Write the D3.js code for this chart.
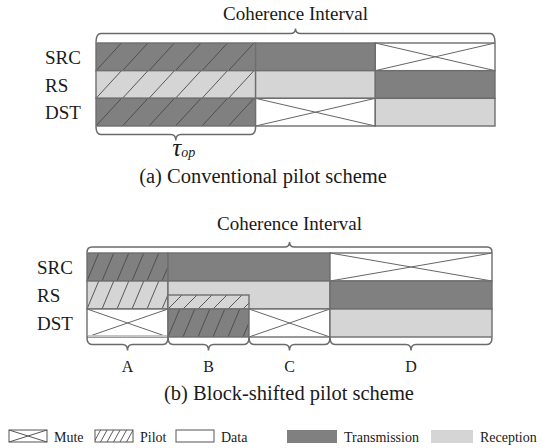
<!DOCTYPE html>
<html>
<head>
<meta charset="utf-8">
<script src="https://cdn.jsdelivr.net/npm/d3@7"></script>
<style>
  html, body { margin: 0; padding: 0; background: #fff; }
  svg { display: block; }
  text { font-family: "Liberation Serif", "Times New Roman", serif; fill: #1a1a1a; }
</style>
</head>
<body>
<div id="chart"></div>
<script>
// Pilot scheme timing diagrams (fractions of one coherence interval)
const rows = ['SRC', 'RS', 'DST'];

// panel (a): conventional pilot scheme
const cellsA = [
  { row: 'SRC', from: 0,   to: 0.4, kind: 'tx',   hatch: 'wide' },
  { row: 'SRC', from: 0.4, to: 0.7, kind: 'tx' },
  { row: 'SRC', from: 0.7, to: 1,   kind: 'mute' },
  { row: 'RS',  from: 0,   to: 0.4, kind: 'rx',   hatch: 'wide' },
  { row: 'RS',  from: 0.4, to: 0.7, kind: 'rx' },
  { row: 'RS',  from: 0.7, to: 1,   kind: 'tx' },
  { row: 'DST', from: 0,   to: 0.4, kind: 'tx',   hatch: 'wide' },
  { row: 'DST', from: 0.4, to: 0.7, kind: 'mute' },
  { row: 'DST', from: 0.7, to: 1,   kind: 'rx' }
];
const bracesA = [
  { from: 0, to: 1,   side: 'top',    label: 'Coherence Interval' },
  { from: 0, to: 0.4, side: 'bottom', label: 'τ', sub: 'op' }
];

// panel (b): block-shifted pilot scheme
const cellsB = [
  { row: 'SRC', from: 0,   to: 0.2, kind: 'tx',   hatch: 'steep' },
  { row: 'SRC', from: 0.2, to: 0.6, kind: 'tx' },
  { row: 'SRC', from: 0.6, to: 1,   kind: 'mute' },
  { row: 'RS',  from: 0,   to: 0.2, kind: 'rx',   hatch: 'steep' },
  { row: 'RS',  from: 0.2, to: 0.6, kind: 'rx' },
  { row: 'RS',  from: 0.2, to: 0.4, kind: 'rx',   hatch: 'flat', part: [0.5, 1] },
  { row: 'RS',  from: 0.6, to: 1,   kind: 'tx' },
  { row: 'DST', from: 0,   to: 0.2, kind: 'mute', edge: 'rx' },
  { row: 'DST', from: 0.2, to: 0.4, kind: 'tx',   hatch: 'steep' },
  { row: 'DST', from: 0.4, to: 0.6, kind: 'mute' },
  { row: 'DST', from: 0.6, to: 1,   kind: 'rx' }
];
const bracesB = [
  { from: 0,   to: 1,   side: 'top',    label: 'Coherence Interval' },
  { from: 0,   to: 0.2, side: 'bottom', label: 'A' },
  { from: 0.2, to: 0.4, side: 'bottom', label: 'B' },
  { from: 0.4, to: 0.6, side: 'bottom', label: 'C' },
  { from: 0.6, to: 1,   side: 'bottom', label: 'D' }
];

const captions = ['(a) Conventional pilot scheme', '(b) Block-shifted pilot scheme'];
const legendItems = [
  { kind: 'mute', label: 'Mute' },
  { kind: 'pilot', label: 'Pilot' },
  { kind: 'data', label: 'Data' },
  { kind: 'tx', label: 'Transmission' },
  { kind: 'rx', label: 'Reception' }
];

const W = 543, H = 448;
const fills = { tx: '#808080', rx: '#d5d5d5', mute: '#ffffff', data: '#ffffff' };
const borderCol = '#6e6e6e';
const hatchStyles = {
  wide:  { step: 26.5, lean: 0.92 },
  steep: { step: 15,   lean: 0.42 },
  flat:  { step: 15,   lean: 1.0 }
};

const svg = d3.select('#chart').append('svg')
  .attr('width', W).attr('height', H);
const defs = svg.append('defs');
let clipId = 0;

function bracePath(x1, x2, yEnd, yFlat, yTip) {
  const r = 5, cx = (x1 + x2) / 2;
  const p = d3.path();
  p.moveTo(x1, yEnd);
  p.quadraticCurveTo(x1, yFlat, x1 + r, yFlat);
  p.lineTo(cx - r, yFlat);
  p.quadraticCurveTo(cx, yFlat, cx, yTip);
  p.quadraticCurveTo(cx, yFlat, cx + r, yFlat);
  p.lineTo(x2 - r, yFlat);
  p.quadraticCurveTo(x2, yFlat, x2, yEnd);
  return p.toString();
}

function hatch(g, x0, y0, w, h, style, refTop, refBot, refLeft) {
  const id = 'clip' + (clipId++);
  defs.append('clipPath').attr('id', id)
    .append('rect').attr('x', x0).attr('y', y0).attr('width', w).attr('height', h);
  const hg = g.append('g').attr('clip-path', `url(#${id})`);
  const span = refBot - refTop;
  const dx = style.lean * span;
  const idx = d3.range(-Math.ceil(dx / style.step) - 2, Math.ceil(600 / style.step));
  hg.selectAll('line').data(idx).join('line')
    .attr('x1', i => refLeft + i * style.step)
    .attr('y1', refBot)
    .attr('x2', i => refLeft + i * style.step + dx)
    .attr('y2', refTop)
    .attr('stroke', '#4a4a4a').attr('stroke-width', 0.9);
}

function drawPanel(cfg) {
  const g = svg.append('g');
  const x = d3.scaleLinear().domain([0, 1]).range(cfg.xRange);
  const y = d3.scaleBand().domain(rows).range(cfg.yRange);
  const [top, bot] = cfg.yRange;

  // row labels
  g.selectAll('text.row').data(rows).join('text')
    .attr('class', 'row')
    .attr('x', cfg.labelX)
    .attr('y', d => y(d) + y.bandwidth() / 2 + 7)
    .attr('font-size', 19)
    .text(d => d);

  cfg.cells.forEach(c => {
    const part = c.part || [0, 1];
    const x0 = x(c.from), x1 = x(c.to);
    const y0 = y(c.row) + part[0] * y.bandwidth();
    const y1 = y(c.row) + part[1] * y.bandwidth();
    g.append('rect')
      .attr('x', x0).attr('y', y0)
      .attr('width', x1 - x0).attr('height', y1 - y0)
      .attr('fill', fills[c.kind]);
    if (c.hatch) hatch(g, x0, y0, x1 - x0, y1 - y0, hatchStyles[c.hatch], y0, y1, x0);
    if (c.kind === 'mute') {
      g.append('path')
        .attr('d', `M${x0},${y0}L${x1},${y1}M${x0},${y1}L${x1},${y0}`)
        .attr('stroke', '#666').attr('stroke-width', 1).attr('fill', 'none');
    }
    g.append('rect')
      .attr('x', x0).attr('y', y0)
      .attr('width', x1 - x0).attr('height', y1 - y0)
      .attr('fill', 'none').attr('stroke', borderCol).attr('stroke-width', 1.4);
    if (c.edge) {
      g.append('line')
        .attr('x1', x0 + 1).attr('x2', x1 - 1)
        .attr('y1', y1 - 1).attr('y2', y1 - 1)
        .attr('stroke', '#c4c4c4').attr('stroke-width', 2.2);
    }
  });

  cfg.braces.forEach(b => {
    const x1 = x(b.from), x2 = x(b.to), cx = (x1 + x2) / 2;
    if (b.side === 'top') {
      g.append('path').attr('d', bracePath(x1, x2, top - 0.5, top - cfg.topDepth, top - cfg.topDepth - 5))
        .attr('fill', 'none').attr('stroke', '#6a6a6a').attr('stroke-width', 1.5);
      g.append('text').attr('x', cx).attr('y', cfg.titleY)
        .attr('text-anchor', 'middle').attr('font-size', 19).text(b.label);
    } else {
      g.append('path').attr('d', bracePath(x1, x2, bot + 0.5, bot + cfg.botDepth, bot + cfg.botDepth + 6))
        .attr('fill', 'none').attr('stroke', '#6a6a6a').attr('stroke-width', 1.5);
      const t = g.append('text').attr('x', cx + (b.sub ? 8 : 0)).attr('y', cfg.subLabelY)
        .attr('text-anchor', 'middle');
      if (b.sub) {
        t.append('tspan').attr('font-size', 25).attr('font-style', 'italic').text(b.label);
        t.append('tspan').attr('font-size', 14).attr('font-style', 'italic').attr('dy', 1).text(b.sub);
      } else {
        t.attr('font-size', 16).text(b.label);
      }
    }
  });

  g.append('text').attr('x', cfg.captionX).attr('y', cfg.captionY)
    .attr('text-anchor', 'middle').attr('font-size', 20.5).text(cfg.caption);
}

drawPanel({
  cells: cellsA, braces: bracesA, caption: captions[0],
  xRange: [96, 495], yRange: [43, 126], labelX: 45,
  topDepth: 9.5, botDepth: 8.5, titleY: 19.5, subLabelY: 156,
  captionX: 263, captionY: 183
});
drawPanel({
  cells: cellsB, braces: bracesB, caption: captions[1],
  xRange: [87, 492], yRange: [253, 337], labelX: 37,
  topDepth: 6, botDepth: 7.5, titleY: 229.5, subLabelY: 372,
  captionX: 289, captionY: 400
});

// legend: icon left edge and width per item
const legendX = [9, 95, 176, 287, 431];
const legendW = [38, 38, 38, 50, 42];
const ly = 430, lh = 12;
const lg = svg.append('g');
legendItems.forEach((d, i) => {
  const x0 = legendX[i], lw = legendW[i];
  if (d.kind === 'tx' || d.kind === 'rx') {
    lg.append('rect').attr('x', x0).attr('y', ly).attr('width', lw).attr('height', lh + 1)
      .attr('fill', fills[d.kind]);
  } else {
    lg.append('rect').attr('x', x0).attr('y', ly).attr('width', lw).attr('height', lh)
      .attr('fill', '#fff');
    if (d.kind === 'mute') {
      lg.append('path').attr('d', `M${x0},${ly}L${x0 + lw},${ly + lh}M${x0},${ly + lh}L${x0 + lw},${ly}`)
        .attr('stroke', '#555').attr('stroke-width', 1).attr('fill', 'none');
    }
    if (d.kind === 'pilot') hatch(lg, x0, ly, lw, lh, { step: 6.5, lean: 0.55 }, ly, ly + lh, x0 - 1);
    lg.append('rect').attr('x', x0).attr('y', ly).attr('width', lw).attr('height', lh)
      .attr('fill', 'none').attr('stroke', '#555').attr('stroke-width', 1);
  }
  lg.append('text').attr('x', x0 + lw + (d.kind === 'tx' || d.kind === 'rx' ? 7 : 7))
    .attr('y', ly + lh).attr('font-size', 14).text(d.label);
});
</script>
</body>
</html>
